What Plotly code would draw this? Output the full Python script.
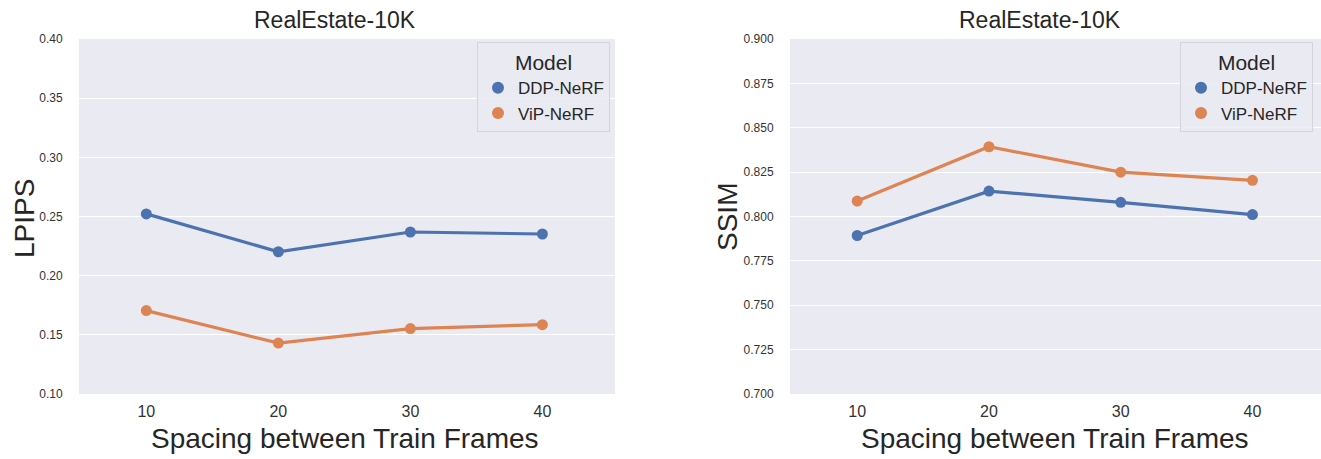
import plotly.graph_objects as go

spacing = ["10", "20", "30", "40"]
models = ["DDP-NeRF", "ViP-NeRF"]
lpips_ddp = [0.2522, 0.2202, 0.2369, 0.2352]
lpips_vip = [0.1705, 0.1430, 0.1553, 0.1586]
ssim_ddp = [0.7893, 0.8143, 0.8080, 0.8011]
ssim_vip = [0.8087, 0.8393, 0.8250, 0.8204]
colors = ["#4C72B0", "#DD8452"]

W, H = 1321, 459
FONT = "Liberation Sans, Arial, sans-serif"

fig = go.Figure()

panels = [
    ([lpips_ddp, lpips_vip], "x", "y", "legend"),
    ([ssim_ddp, ssim_vip], "x2", "y2", "legend2"),
]
for series, xa, ya, leg in panels:
    for i, (vals, name) in enumerate(zip(series, models)):
        fig.add_trace(go.Scatter(x=spacing, y=vals, name=name, mode="lines+markers",
                                 line=dict(color=colors[i], width=3.2),
                                 marker=dict(color=colors[i], size=11),
                                 showlegend=False, xaxis=xa, yaxis=ya))
    # legend entries: marker only (as in seaborn's pointplot legend)
    for i, name in enumerate(models):
        fig.add_trace(go.Scatter(x=[None], y=[None], name=name, mode="markers",
                                 marker=dict(color=colors[i], size=11),
                                 showlegend=True, legend=leg, xaxis=xa, yaxis=ya))

ydom = [(H - 394) / H, (H - 39) / H]
x1dom = [79 / W, 615 / W]
x2dom = [790 / W, 1.0]

xcommon = dict(type="category", categoryorder="array", categoryarray=spacing,
               showgrid=False, zeroline=False, showline=False, ticks="",
               automargin=False, ticklabelstandoff=6,
               tickfont=dict(size=16, color="#333333", family=FONT))
ycommon = dict(showgrid=True, gridcolor="white", gridwidth=1.2, zeroline=False,
               showline=False, ticks="outside", ticklen=5, tickcolor="rgba(0,0,0,0)",
               automargin=False, ticklabelstandoff=8,
               tickfont=dict(size=12, color="#333333", family=FONT))

legcommon = dict(bgcolor="rgba(234,234,242,0.85)", bordercolor="#d4d4dc",
                 borderwidth=1, font=dict(size=17, color="#262626", family=FONT),
                 title=dict(text="Model", side="top center",
                            font=dict(size=21, color="#262626", family=FONT)),
                 xanchor="right", yanchor="top", itemsizing="constant",
                 itemwidth=30, tracegroupgap=0)

axtitle_font = dict(size=28, color="#262626", family=FONT)
title_font = dict(size=23, color="#262626", family=FONT)


def ann(text, xpx, ypx, font, angle=0):
    return dict(text=text, x=xpx / W, y=(H - ypx) / H, xanchor="center", yanchor="middle",
                xref="paper", yref="paper", showarrow=False, textangle=angle, font=font)


fig.update_layout(
    width=W, height=H,
    margin=dict(l=0, r=0, t=0, b=0, autoexpand=False),
    paper_bgcolor="white",
    plot_bgcolor="#EAEAF2",
    font=dict(family=FONT, color="#262626"),
    showlegend=True,
    xaxis=dict(domain=x1dom, anchor="y", range=[-0.51, 3.55], **xcommon),
    yaxis=dict(domain=ydom, anchor="x", range=[0.10, 0.40],
               tickvals=[0.10, 0.15, 0.20, 0.25, 0.30, 0.35, 0.40],
               ticktext=["0.10", "0.15", "0.20", "0.25", "0.30", "0.35", "0.40"],
               **ycommon),
    xaxis2=dict(domain=x2dom, anchor="y2", range=[-0.51, 3.52], **xcommon),
    yaxis2=dict(domain=ydom, anchor="x2", range=[0.70, 0.90],
                tickvals=[0.700, 0.725, 0.750, 0.775, 0.800, 0.825, 0.850, 0.875, 0.900],
                ticktext=["0.700", "0.725", "0.750", "0.775", "0.800", "0.825", "0.850", "0.875", "0.900"],
                **ycommon),
    legend=dict(x=610 / W, y=(H - 42) / H, **legcommon),
    legend2=dict(x=1313 / W, y=(H - 42) / H, **legcommon),
    annotations=[
        ann("RealEstate-10K", 335, 20, title_font),
        ann("RealEstate-10K", 1040, 20, title_font),
        ann("LPIPS", 24, 219, axtitle_font, -90),
        ann("SSIM", 727, 217, axtitle_font, -90),
        ann("Spacing between Train Frames", 345, 438, axtitle_font),
        ann("Spacing between Train Frames", 1055, 438, axtitle_font),
    ],
)

fig.write_html("out.html", config={"displayModeBar": False},
               post_script="document.body.style.margin='0';document.body.style.overflow='hidden';")
